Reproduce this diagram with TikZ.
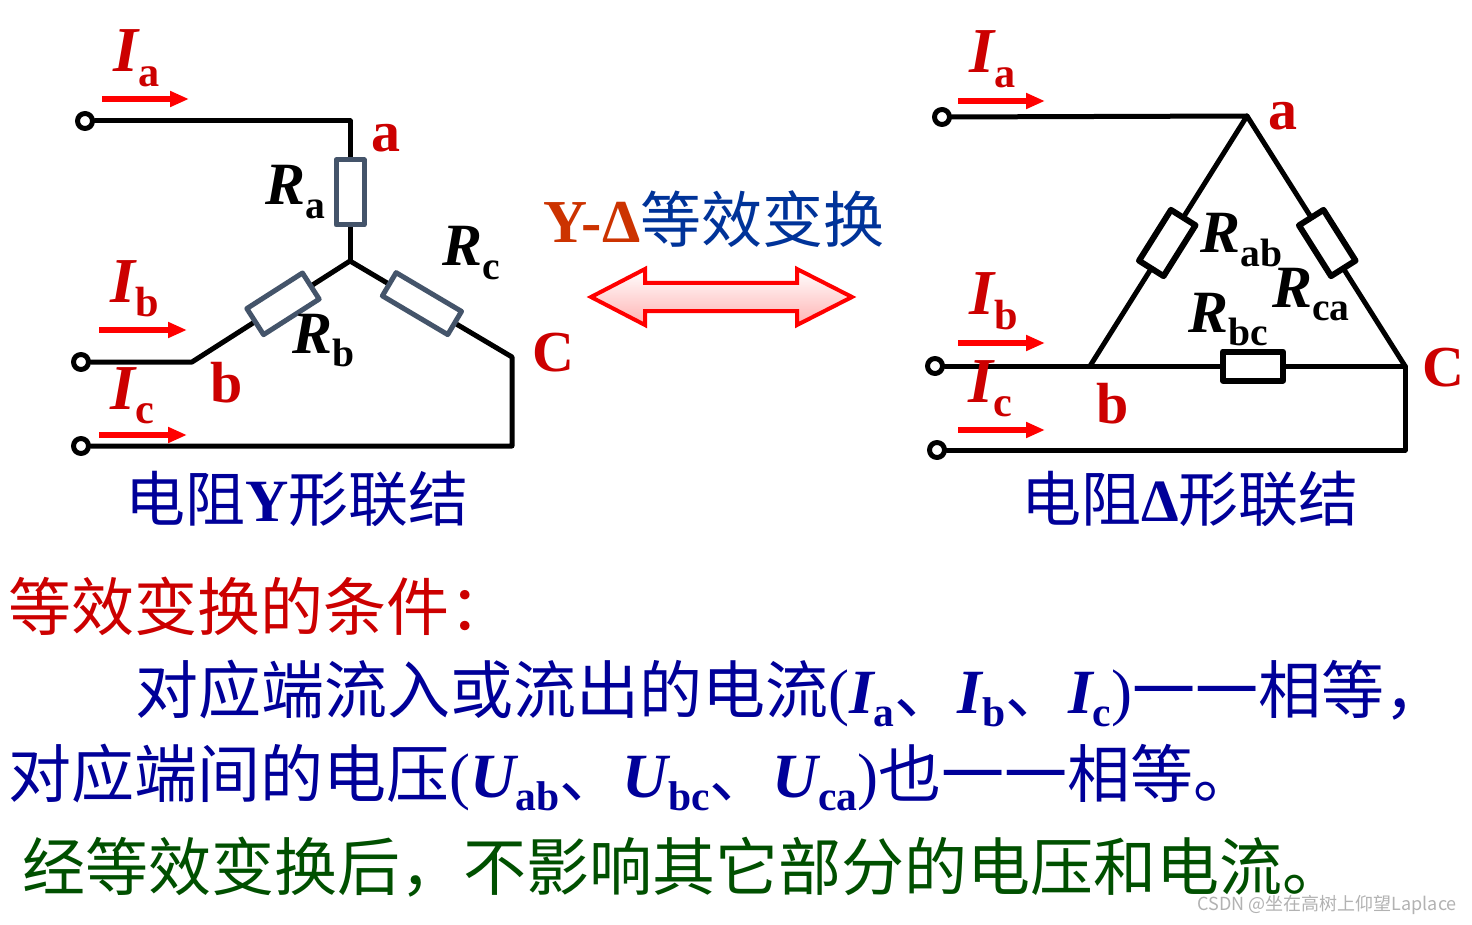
\documentclass[tikz,border=0pt]{standalone}
\usepackage{fontspec}
\usepackage{graphicx}
\setmainfont{Liberation Serif}
\newfontfamily\cjk{Noto Sans CJK SC}
\usetikzlibrary{arrows.meta}
\definecolor{labred}{HTML}{CC0000}
\definecolor{arrred}{HTML}{FF0000}
\definecolor{resgray}{HTML}{44546A}
\definecolor{navy}{HTML}{000099}
\definecolor{tblue}{HTML}{003399}
\definecolor{torange}{HTML}{CC3300}
\definecolor{dgreen}{HTML}{005000}
\newcommand{\qsub}[2]{{\rmfamily\bfseries\itshape #1}\raisebox{-0.22em}{\scalebox{0.66}{\rmfamily\bfseries #2}}}
\begin{document}
\begin{tikzpicture}[x=1pt, y=-1pt, line cap=round, line join=round, >={Triangle[length=19pt,width=15pt]}]
	\tikzset{wire/.style={line width=5},
		term/.style={circle, draw, line width=5, fill=white, inner sep=0, minimum size=15},
		resY/.style={rectangle, draw=resgray, line width=5, fill=white, inner sep=0},
		resD/.style={rectangle, draw, line width=6, fill=white, inner sep=0, minimum width=60, minimum height=29},
		curr/.style={->, draw=arrred, line width=6, line cap=butt},
		lab/.style={anchor=base west, inner sep=0, text=labred, font=\fontsize{58}{58}\selectfont\bfseries},
		curlab/.style={anchor=base west, inner sep=0, text=labred, font=\fontsize{64}{64}\selectfont},
		rlab/.style={anchor=base west, inner sep=0, font=\fontsize{60}{60}\selectfont},
		txt/.style={anchor=base west, inner sep=0, font=\cjk\fontsize{63}{63}\selectfont}}
	\useasboundingbox (0,0) rectangle (1472,925);
	\fill[white] (0,0) rectangle (1472,925);
	% Y connection
	\node[term] (ta) at (85,121) {};
	\node[term] (tb) at (81,362) {};
	\node[term] (tc) at (81,446) {};
	\coordinate (ya) at (350,121);
	\coordinate (yo) at (350,261);
	\coordinate (yb) at (192,362);
	\coordinate (yc) at (512,357);
	\draw[wire] (ta) -- (ya) -- (yo) node[pos=.51, sloped, resY, minimum width=65, minimum height=28] (Ra) {};
	\draw[wire] (tb) -- (yb) -- (yo) node[pos=.576, sloped, resY, minimum width=66, minimum height=31] (Rb) {};
	\draw[wire] (yo) -- (yc) node[pos=.444, sloped, resY, minimum width=76, minimum height=27] (Rc) {} |- (tc);
	\draw[curr] (102,99) -- (189,99);
	\draw[curr] (99,330) -- (187,330);
	\draw[curr] (99,435) -- (187,435);
	\node[curlab] (Ia1) at (113,72) {\qsub{I}{a}};
	\node[curlab] (Ib1) at (110,302) {\qsub{I}{b}};
	\node[curlab] (Ic1) at (110,409) {\qsub{I}{c}};
	\node[lab] (la1) at (371,152) {a};
	\node[lab] (lb1) at (210,402) {b};
	\node[lab] (lc1) at (532,371) {C};
	\node[rlab] (lRa) at (265,205) {\qsub{R}{a}};
	\node[rlab] (lRb) at (292,353) {\qsub{R}{b}};
	\node[rlab] (lRc) at (442,266) {\qsub{R}{c}};
	\node[anchor=base, inner sep=0, text=navy, font=\cjk\fontsize{60}{60}\selectfont] (capY) at (297,521) {电阻{\rmfamily\bfseries Y}形联结};
	% Delta connection
	\node[term] (da) at (942,117) {};
	\node[term] (db) at (935,366) {};
	\node[term] (dc) at (937,450) {};
	\coordinate (va) at (1247,116);
	\coordinate (vb) at (1090,366);
	\coordinate (vc) at (1405,366);
	\draw[wire] (da) -- (va) -- (vb) node[pos=.508, sloped, resD] (Rab) {};
	\draw[wire] (va) -- (vc) node[pos=.508, sloped, resD] (Rca) {};
	\draw[wire] (db) -- (vb) -- (vc) node[pos=.517, sloped, resD] (Rbc) {} |- (dc);
	\draw[curr] (958,101) -- (1045,101);
	\draw[curr] (958,343) -- (1045,343);
	\draw[curr] (958,430) -- (1045,430);
	\node[curlab] (Ia2) at (969,73) {\qsub{I}{a}};
	\node[curlab] (Ib2) at (969,315) {\qsub{I}{b}};
	\node[curlab] (Ic2) at (968,402) {\qsub{I}{c}};
	\node[lab] (la2) at (1268,130) {a};
	\node[lab] (lb2) at (1096,423) {b};
	\node[lab] (lc2) at (1422,386) {C};
	\node[rlab] (lRab) at (1200,253) {\qsub{R}{ab}};
	\node[rlab] (lRbc) at (1188,332) {\qsub{R}{bc}};
	\node[rlab] (lRca) at (1272,307) {\qsub{R}{ca}};
	\node[anchor=base, inner sep=0, text=navy, font=\cjk\fontsize{60}{60}\selectfont] (capD) at (1190,521) {电阻{\rmfamily\bfseries Δ}形联结};
	% transform
	\node[anchor=base west, inner sep=0, font=\fontsize{61}{61}\selectfont] (ttl) at (543,243) {{\rmfamily\bfseries\color{torange}Y-Δ}{\cjk\color{tblue}等效变换}};
	\draw[draw=arrred, line width=4, line join=miter, top color=white, bottom color=red!30] (591,297) -- (645,269) -- (645,283) -- (797,283) -- (797,269) -- (852,297) -- (797,325) -- (797,311) -- (645,311) -- (645,325) -- cycle;
	% conditions
	\node[txt, text=labred] (cond) at (8,630) {等效变换的条件：};
	\node[txt, text=navy] (condI) at (135,713) {对应端流入或流出的电流{\rmfamily(}\qsub{I}{a}、\qsub{I}{b}、\qsub{I}{c}{\rmfamily)}一一相等，};
	\node[txt, text=navy] (condU) at (8,797) {对应端间的电压{\rmfamily(}\qsub{U}{ab}、\qsub{U}{bc}、\qsub{U}{ca}{\rmfamily)}也一一相等。};
	\node[txt, text=dgreen] (note) at (22,890) {经等效变换后，不影响其它部分的电压和电流。};
	\node[anchor=east, inner sep=0, text=black!30, font=\cjk\fontsize{18}{18}\selectfont] (wm) at (1457,905) {CSDN @坐在高树上仰望Laplace};
\end{tikzpicture}
\end{document}
